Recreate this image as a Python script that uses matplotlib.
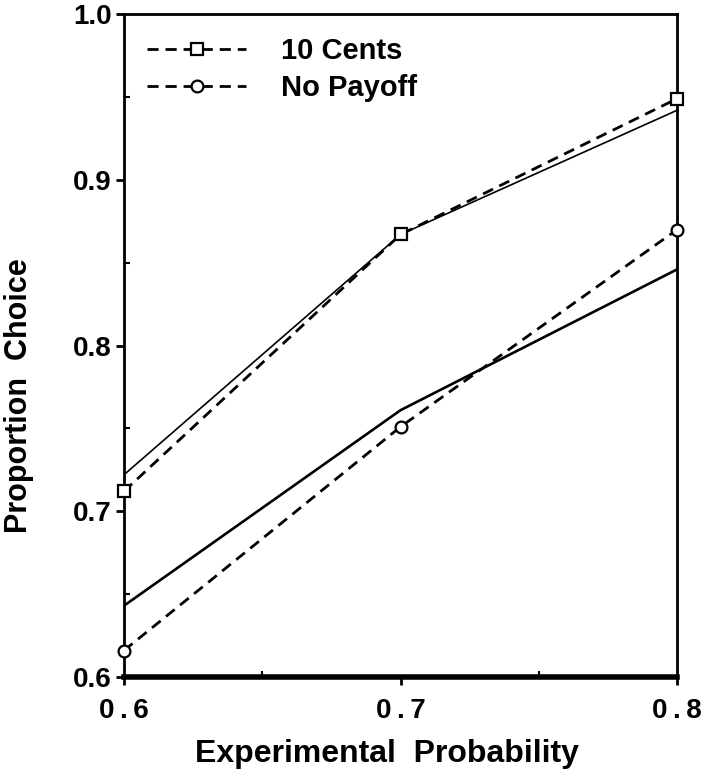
import matplotlib
matplotlib.use('Agg')
import matplotlib.pyplot as plt
from matplotlib.ticker import MultipleLocator, FormatStrFormatter, FixedLocator, FixedFormatter

plt.rcParams['font.family'] = ['Liberation Sans', 'DejaVu Sans']
plt.rcParams['font.weight'] = 'bold'

probs = [0.6, 0.7, 0.8]
prob_labels = ['0\u2009.\u20096', '0\u2009.\u20097', '0\u2009.\u20098']
cents_obs = [0.712, 0.867, 0.949]
cents_fit = [0.722, 0.867, 0.942]
nopay_obs = [0.616, 0.751, 0.870]
nopay_fit = [0.643, 0.761, 0.846]

fig = plt.figure(figsize=(7.04, 7.8), dpi=100)
ax = fig.add_axes([0.176, 0.132, 0.786, 0.850])

ax.plot(probs, cents_fit, color='black', lw=1.2, zorder=2)
ax.plot(probs, nopay_fit, color='black', lw=1.9, zorder=2)
ax.plot(probs, cents_obs, color='black', lw=2, ls=(0, (4, 2.5)), marker='s',
        ms=9, mfc='white', mec='black', mew=1.6, label='10 Cents', zorder=3,
        clip_on=False)
ax.plot(probs, nopay_obs, color='black', lw=2, ls=(0, (4, 2.5)), marker='o',
        ms=8.5, mfc='white', mec='black', mew=1.6, label='No Payoff', zorder=3,
        clip_on=False)

ax.set_xlim(0.6, 0.8)
ax.set_ylim(0.6, 1.0)
ax.xaxis.set_major_locator(FixedLocator(probs))
ax.xaxis.set_major_formatter(FixedFormatter(prob_labels))
ax.xaxis.set_minor_locator(MultipleLocator(0.05))
ax.yaxis.set_major_locator(MultipleLocator(0.1))
ax.yaxis.set_minor_locator(MultipleLocator(0.05))
ax.yaxis.set_major_formatter(FormatStrFormatter('%.1f'))
ax.tick_params(axis='both', which='major', length=6, width=2, labelsize=20,
               direction='out')
ax.tick_params(axis='y', which='major', pad=3)
ax.tick_params(axis='x', which='major', pad=9)
ax.tick_params(axis='both', which='minor', length=4, width=1.5, direction='in')
for lbl in ax.get_xticklabels() + ax.get_yticklabels():
    lbl.set_fontweight('bold')

for s in ['left', 'right', 'top']:
    ax.spines[s].set_linewidth(2)
ax.spines['bottom'].set_linewidth(4)

ax.set_xlabel('Experimental  Probability', fontsize=23, fontweight='bold')
ax.set_ylabel('Proportion  Choice', fontsize=22, fontweight='bold')
ax.xaxis.set_label_coords(0.476, -0.093)
ax.yaxis.set_label_coords(-0.163, 0.425)

leg = ax.legend(loc='upper left', frameon=False, fontsize=21, handlelength=3.4,
                handletextpad=1.2, borderaxespad=0.5, borderpad=0.3,
                labelspacing=0.3)

fig.savefig('out.png', dpi=100)
